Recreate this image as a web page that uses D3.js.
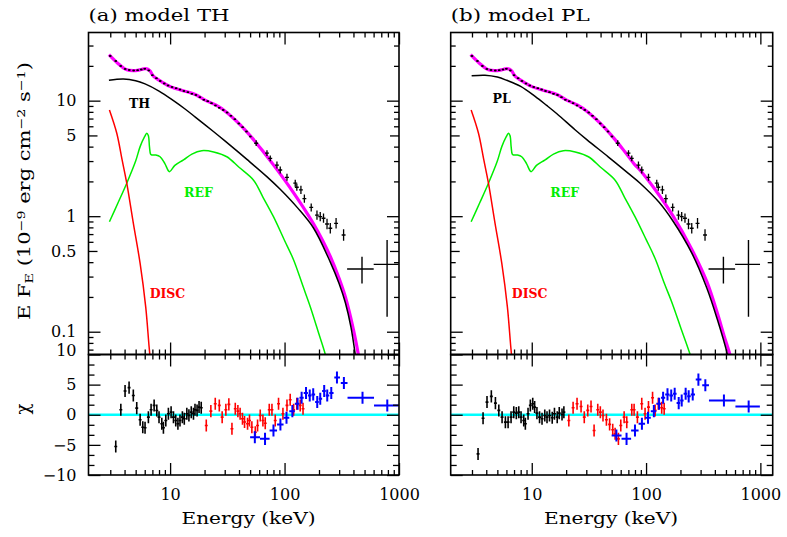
<!DOCTYPE html>
<html><head><meta charset="utf-8">
<script src="https://cdn.jsdelivr.net/npm/d3@7"></script>
<style>body{margin:0;background:#fff}svg{display:block}</style>
</head><body><svg id="c" width="787" height="537"></svg>
<script>
// ---------------- DATA ----------------
// Panel (a): model TH components (E keV, E F_E 1e-9 erg cm-2 s-1)
const totA_E = [2.92,3.5,4.18,5.0,5.6,6.04,6.4,6.7,7.15,8.5,10.3,13,16.6,20.2,25,30.3,40,51.8,65,80,100,120,150,179,215,251,300,340,400,440,460];
const totA_F = [25,21,18.5,18.2,18.6,18.9,18.7,18.0,16.3,14.5,13.1,12.2,11.3,10.1,9.18,8.11,6.33,4.79,3.63,2.78,2.06,1.59,1.14,0.859,0.617,0.448,0.288,0.1995,0.104,0.0646,0.0497];
const thA_E = [2.92,3.9,5.0,6.04,8.0,10.7,13.5,16.6,23.9,30.3,46.9,70,91.6,130,179,251,300,340,380,416,440];
const thA_F = [15.0,15.4,14.9,13.96,12.1,10.0,8.47,7.21,5.41,4.46,3.10,2.20,1.71,1.18,0.79,0.40,0.26,0.178,0.11,0.062,0.04];
const refA_E = [2.95,3.5,4.18,5.0,5.47,6.0,6.25,6.45,6.6,6.75,6.92,7.5,8.17,9.0,9.87,11,13.1,15.5,18.9,24,31.3,40,53.6,65,80,100,120,145,168,200,227,245];
const refA_F = [0.895,1.3,1.93,3.0,4.0,4.9,5.22,5.0,4.0,3.45,3.39,3.38,3.27,2.85,2.43,2.75,3.07,3.45,3.69,3.6,3.27,2.65,2.05,1.45,0.99,0.616,0.418,0.247,0.164,0.095,0.0635,0.045];
const discA_E = [2.95,3.42,3.8,4.18,4.77,5.47,6.12,6.55,6.8];
const discA_F = [8.3,5.22,3.1,1.93,0.87,0.39,0.164,0.0745,0.05];

// Panel (b): model PL components
const totB_E = [2.92,3.5,4.18,5.0,5.6,6.04,6.4,6.7,7.15,8.5,10.3,13,16.6,20.2,25,30.3,40,51.8,65,80,88.7,120,173,250,340,420,480,550,575];
const totB_F = [25,21,18.5,18.2,18.6,18.9,18.7,18.0,16.3,14.5,13.1,12.2,11.3,10.1,9.18,8.11,6.33,4.79,3.63,2.78,2.5,1.7,0.995,0.52,0.271,0.145,0.093,0.06,0.048];
const plB_E = [2.98,3.9,5.0,6.04,8.0,10.7,13.5,16.6,23.9,30.3,46.9,70,88.7,130,173,250,340,420,514,540];
const plB_F = [16.4,16.6,16.0,15.0,13.3,10.9,9.1,7.7,5.6,4.6,3.25,2.35,1.93,1.32,0.90,0.484,0.239,0.128,0.064,0.05];
const refB_E = [2.95,3.5,4.18,5.0,5.47,6.0,6.25,6.45,6.6,6.75,6.92,7.5,8.17,9.0,9.87,11,13.1,15.5,18.9,24,31.3,40,53.6,65,80,100,120,145,168,200,243,260];
const refB_F = [0.895,1.3,1.93,3.0,4.0,4.9,5.22,5.0,4.0,3.45,3.39,3.38,3.27,2.85,2.43,2.75,3.07,3.45,3.69,3.6,3.27,2.65,2.05,1.45,0.99,0.63,0.43,0.26,0.18,0.11,0.0635,0.05];
const discB_E = [2.95,3.42,3.8,4.18,4.77,5.47,6.12,6.55,6.8];
const discB_F = [8.3,5.22,3.1,1.93,0.87,0.39,0.164,0.0745,0.05];

// Unfolded spectrum (same data in both panels)
const specE = [3.0,3.35,3.7,4.05,4.4,4.8,5.2,5.6,6.0,6.5,7.0,7.6,8.2,8.9,9.6,10.4,11.3,12.2,13.2,14.3,15.5,16.8,18.2,19.7,21.3,23.0,24.9,26.9,29.1,31.5,34.0,36.8,39.8,43.0,46.5,50.3];
const specF = [24.4,22,20,18.8,18.4,18.2,18.3,18.6,18.9,18.2,16.6,15.6,14.8,14.1,13.5,13.1,12.8,12.5,12.1,11.8,11.5,11.2,10.7,10.2,9.9,9.5,9.1,8.7,8.3,7.9,7.4,6.9,6.35,5.9,5.4,4.9];
const crossE = [56.5,70.2,75,85.8,91.7,105,124,128,139,149,171,192,205,219,235,251,282,328];
const crossF = [4.28,3.51,3.17,2.77,2.51,2.17,1.93,1.78,1.69,1.42,1.19,1.02,0.99,0.96,0.856,0.786,0.868,0.687];
const crossDy = [0.025,0.025,0.025,0.03,0.03,0.03,0.03,0.03,0.035,0.035,0.035,0.04,0.04,0.04,0.045,0.045,0.045,0.05];
const bigE = [475,787], bigElo = [352,601], bigEhi = [601,993];
const bigF = [0.349,0.383], bigFlo = [0.262,0.135], bigFhi = [0.446,0.622];

// Residuals (chi), panel (a)
const blackA_E = [3.35,3.71,4.04,4.38,4.77,5.11,5.47,5.77,6.04,6.46,6.82,7.25,7.65,8.0,8.46,8.74,9.17,9.66,10.2,10.7,11.2,11.7,12.2,12.8,13.3,14.0,14.6,15.3,16.0,16.5,17.2,17.9,18.7];
const blackA_C = [-5.28,0.83,3.93,4.5,3.2,1.1,-0.83,-2.07,-2.17,-0.4,0.83,1.55,0.7,-0.4,-1.5,-2.17,-0.95,0.17,0.43,-0.4,-0.95,-1.5,-0.95,-0.4,-0.67,0.17,-0.1,0.43,0.17,0.83,0.72,1.27,1.17];
const redA_E = [20.7,22.7,24.8,26.9,28.5,30.7,32.6,34.7,37.1,39.1,40.9,42.9,44.7,47.5,49.4,51.8,55.5,58.1,61.3,64.7,67.8,73.5,77.6,82.9,88.6,96.8,105,112,120,128,137,145];
const redA_C = [-1.78,0.6,1.83,1.55,-0.4,0.83,1.72,-2.33,1.0,0.6,0.17,-0.67,-1.2,-1.5,-0.95,-2.07,-2.9,-1.78,-0.12,-0.95,-1.4,0.83,0.83,-0.95,1.83,0.17,1.55,2.5,0.83,1.83,1.55,1.0];
const blueE   = [55,67.5,80,92,104,117,130,141,154,166,178,193,205,222,236,256,287,330,480,790];
const blueElo = [50,61,74,86,98,110,123,135,147,160,172,185,199,213,229,246,272,310,355,605];
const blueEhi = [61,74,86,98,110,123,135,147,160,172,185,199,213,229,246,268,305,355,605,990];
const blueA_C = [-3.73,-4.0,-2.62,-1.62,-0.5,0.6,1.83,2.83,3.6,3.2,3.38,2.1,2.67,3.93,3.2,3.6,6.17,5.27,2.83,1.55];

// Residuals (chi), panel (b)
const blackB_E = [3.39,3.75,4.06,4.43,4.81,5.15,5.5,5.88,6.21,6.59,6.96,7.33,7.7,8.06,8.51,8.79,9.28,9.72,10.2,10.6,11.1,11.7,12.3,13.0,13.6,14.3,15.1,15.8,16.7,17.4,18.4,19.1];
const blackB_C = [-6.5,-0.57,2.1,3.05,1.93,0.72,-0.4,-1.23,-1.23,-0.4,0.43,0.27,0.43,-0.4,-0.95,-1.5,0.17,1.55,1.83,1.27,0.27,-0.4,-0.67,-0.12,-0.4,-0.12,-0.5,0.17,-0.4,0.27,0.05,0.43];
const redB_E = [21.1,23.0,24.9,27.0,28.8,30.9,33.0,35.1,37.8,39.8,42.0,45.0,48.0,51.1,53.6,57.3,60.1,64.3,67.8,75.0,78.6,84.0,91.7,98.0,105,114,120,128,137,144];
const redB_C = [-0.95,1.17,1.83,1.38,-0.4,0.72,1.38,-2.62,0.83,0.43,-0.12,-0.83,-1.6,-2.5,-3.17,-4.0,-1.78,-0.4,-1.23,0.83,0.83,-0.4,1.83,0.17,1.27,2.83,0.72,1.83,1.17,1.0];
const blueB_C = [-3.45,-4.0,-2.62,-1.5,-0.5,0.6,1.83,2.83,3.38,3.2,3.5,1.93,2.38,3.5,3.05,3.38,5.83,4.88,2.38,1.38];

// Axis ticks
const xMajor = [10,100,1000];
const xMinor = [3,4,5,6,7,8,9,20,30,40,50,60,70,80,90,200,300,400,500,600,700,800,900];
const yTopMajor = [0.1,1,10];
const yTopMid = [0.5,5];
const yTopMinor = [0.07,0.08,0.09,0.2,0.3,0.4,0.6,0.7,0.8,0.9,2,3,4,6,7,8,9,20,30];
const yTopLabels = [0.1,0.5,1,5,10];
const yBotMajor = [-10,-5,0,5,10];
const yBotMinor = [-8.333,-6.667,-3.333,-1.667,1.667,3.333,6.667,8.333];

// ---------------- DRAW ----------------
const FONT = "'DejaVu Serif', serif";
const svg = d3.select("#c");
const defs = svg.append("defs");
const Y = {top:32.5, mid:354.5, bot:475};
const fMin = 0.0635, fMax = 38.9;
const panels = [
  {x0:88.5, x1:399, eMin:1.936, eMax:1000, title:"(a) model TH", tLen:141, name:"TH", nameY:108, refX:110, eCx:248.5,
   tot:[totA_E,totA_F], comp:[thA_E,thA_F], ref:[refA_E,refA_F], disc:[discA_E,discA_F],
   black:[blackA_E,blackA_C], red:[redA_E,redA_C], blue:blueA_C, ylab:true},
  {x0:450.7, x1:772.7, eMin:1.954, eMax:1282, title:"(b) model PL", tLen:139, name:"PL", nameY:103, refX:114, eCx:611,
   tot:[totB_E,totB_F], comp:[plB_E,plB_F], ref:[refB_E,refB_F], disc:[discB_E,discB_F],
   black:[blackB_E,blackB_C], red:[redB_E,redB_C], blue:blueB_C, ylab:false}
];

function styleAxis(g){ g.select(".domain").remove(); g.selectAll("line").attr("stroke","#000").attr("stroke-width",1.3);
  g.attr("font-family",FONT).attr("font-size",16); g.selectAll("text").attr("fill","#000"); }

panels.forEach((p,i)=>{
  const x = d3.scaleLog().domain([p.eMin,p.eMax]).range([p.x0,p.x1]);
  const yT = d3.scaleLog().domain([fMin,fMax]).range([Y.mid,Y.top]);
  const yB = d3.scaleLinear().domain([-10,10]).range([Y.bot,Y.mid]);
  const W = p.x1-p.x0;
  defs.append("clipPath").attr("id","ct"+i).append("rect").attr("x",p.x0).attr("y",Y.top).attr("width",W).attr("height",Y.mid-Y.top);
  defs.append("clipPath").attr("id","cb"+i).append("rect").attr("x",p.x0).attr("y",Y.mid).attr("width",W).attr("height",Y.bot-Y.mid);
  const gT = svg.append("g").attr("clip-path",`url(#ct${i})`);
  const gB = svg.append("g").attr("clip-path",`url(#cb${i})`);

  const line = d3.line().x(d=>x(d[0])).y(d=>yT(d[1])).curve(d3.curveCatmullRom.alpha(0.5));
  const curve = (arr,color,w)=> gT.append("path").datum(d3.zip(arr[0],arr[1])).attr("d",line)
      .attr("fill","none").attr("stroke",color).attr("stroke-width",w).attr("stroke-linejoin","round");
  curve(p.ref,"#00ee00",1.5);
  curve(p.disc,"#ff0000",1.5);
  curve(p.tot,"#ff00ff",3.2);
  curve(p.comp,"#000",1.5);

  // spectrum data
  const seg = (g,x1,y1,x2,y2,c,w)=> g.append("line").attr("x1",x1).attr("y1",y1).attr("x2",x2).attr("y2",y2).attr("stroke",c).attr("stroke-width",w);
  specE.forEach((e,k)=>{ const f=specF[k];
    seg(gT,x(e*0.975),yT(f),x(e*1.025),yT(f),"#000",1.5);
    seg(gT,x(e),yT(f*0.985),x(e),yT(f*1.015),"#000",1.3); });
  crossE.forEach((e,k)=>{ const f=crossF[k], d=crossDy[k];
    seg(gT,x(e/1.04),yT(f),x(e*1.04),yT(f),"#000",1.3);
    seg(gT,x(e),yT(f/Math.pow(10,d)),x(e),yT(f*Math.pow(10,d)),"#000",1.3); });
  bigE.forEach((e,k)=>{
    seg(gT,x(bigElo[k]),yT(bigF[k]),x(bigEhi[k]),yT(bigF[k]),"#000",1.4);
    seg(gT,x(e),yT(bigFlo[k]),x(e),yT(bigFhi[k]),"#000",1.4); });

  // component labels
  const lab = (t,cx,by,c)=> svg.append("text").attr("x",cx).attr("y",by).attr("text-anchor","middle")
     .attr("font-family",FONT).attr("font-weight","bold").attr("font-size",12.5).attr("fill",c).text(t);
  lab(p.name, p.x0+51, p.nameY, "#000");
  lab("REF", p.x0+p.refX, 197, "#00ee00");
  lab("DISC", p.x0+79, 298, "#ff0000");

  // residuals
  gB.append("line").attr("x1",p.x0).attr("x2",p.x1).attr("y1",yB(0)).attr("y2",yB(0)).attr("stroke","#00ffff").attr("stroke-width",2.5);
  const resid = (E,C,lo,hi,c,w)=> E.forEach((e,k)=>{
    seg(gB,x(lo?lo[k]:e/1.03),yB(C[k]),x(hi?hi[k]:e*1.03),yB(C[k]),c,w);
    seg(gB,x(e),yB(C[k]-1),x(e),yB(C[k]+1),c,w); });
  resid(p.black[0],p.black[1],null,null,"#000",1.6);
  resid(p.red[0],p.red[1],null,null,"#ff0000",1.6);
  resid(blueE,p.blue,blueElo,blueEhi,"#0000ff",2);

  // frames
  [[Y.top,Y.mid],[Y.mid,Y.bot]].forEach(([a,b])=> svg.append("rect").attr("x",p.x0).attr("y",a).attr("width",W).attr("height",b-a)
      .attr("fill","none").attr("stroke","#000").attr("stroke-width",1.6));

  // x ticks
  const xt = (yPos, axisF, vals, len)=> svg.append("g").attr("transform",`translate(0,${yPos})`)
      .call(axisF(x).tickValues(vals.filter(v=>v>=p.eMin&&v<=p.eMax)).tickSize(-len).tickFormat("")).call(styleAxis);
  [[Y.top,d3.axisTop],[Y.mid,d3.axisBottom],[Y.mid,d3.axisTop],[Y.bot,d3.axisBottom]].forEach(([yy,f])=>{
    xt(yy,f,xMajor,12); xt(yy,f,xMinor,5); });
  svg.append("g").attr("transform",`translate(0,${Y.bot})`)
     .call(d3.axisBottom(x).tickValues(xMajor).tickSize(0).tickPadding(14).tickFormat(d3.format("d"))).call(styleAxis);

  // y ticks
  const yt = (xPos, axisF, sc, vals, len)=> svg.append("g").attr("transform",`translate(${xPos},0)`)
      .call(axisF(sc).tickValues(vals).tickSize(-len).tickFormat("")).call(styleAxis);
  [[p.x0,d3.axisLeft],[p.x1,d3.axisRight]].forEach(([xx,f])=>{
    yt(xx,f,yT,yTopMajor,12); yt(xx,f,yT,yTopMid,9); yt(xx,f,yT,yTopMinor,5);
    yt(xx,f,yB,yBotMajor,12); yt(xx,f,yB,yBotMinor,6); });
  if(p.ylab){
    svg.append("g").attr("transform",`translate(${p.x0},0)`)
      .call(d3.axisLeft(yT).tickValues(yTopLabels).tickSize(0).tickPadding(12).tickFormat(d=>String(d))).call(styleAxis);
    const gl = svg.append("g").attr("transform",`translate(${p.x0},0)`)
      .call(d3.axisLeft(yB).tickValues(yBotMajor).tickSize(0).tickPadding(12).tickFormat(d3.format("d"))).call(styleAxis);
    gl.selectAll(".tick").filter(d=>d===10).select("text").attr("y",-4);
  }

  // titles
  svg.append("text").attr("x",p.x0).attr("y",21).attr("font-family",FONT).attr("font-size",17.5)
     .attr("textLength",p.tLen).attr("lengthAdjust","spacingAndGlyphs").text(p.title);
  svg.append("text").attr("x",p.eCx).attr("y",524).attr("text-anchor","middle")
     .attr("font-family",FONT).attr("font-size",17).attr("textLength",134).attr("lengthAdjust","spacingAndGlyphs").text("Energy (keV)");
});

// y axis titles
const yl = svg.append("text").attr("transform","translate(30,191) rotate(-90)").attr("text-anchor","middle")
  .attr("font-family",FONT).attr("font-size",17).attr("textLength",258).attr("lengthAdjust","spacingAndGlyphs");
yl.append("tspan").text("E F");
yl.append("tspan").attr("font-size",11.5).attr("baseline-shift","-25%").text("E");
yl.append("tspan").text(" (10");
yl.append("tspan").attr("font-size",11.5).attr("baseline-shift","45%").text("−9");
yl.append("tspan").text(" erg cm");
yl.append("tspan").attr("font-size",11.5).attr("baseline-shift","45%").text("−2");
yl.append("tspan").text(" s");
yl.append("tspan").attr("font-size",11.5).attr("baseline-shift","45%").text("−1");
yl.append("tspan").text(")");
svg.append("text").attr("transform","translate(29,409) rotate(-90)").attr("text-anchor","middle")
  .attr("font-family",FONT).attr("font-size",18).text("χ");
</script></body></html>
